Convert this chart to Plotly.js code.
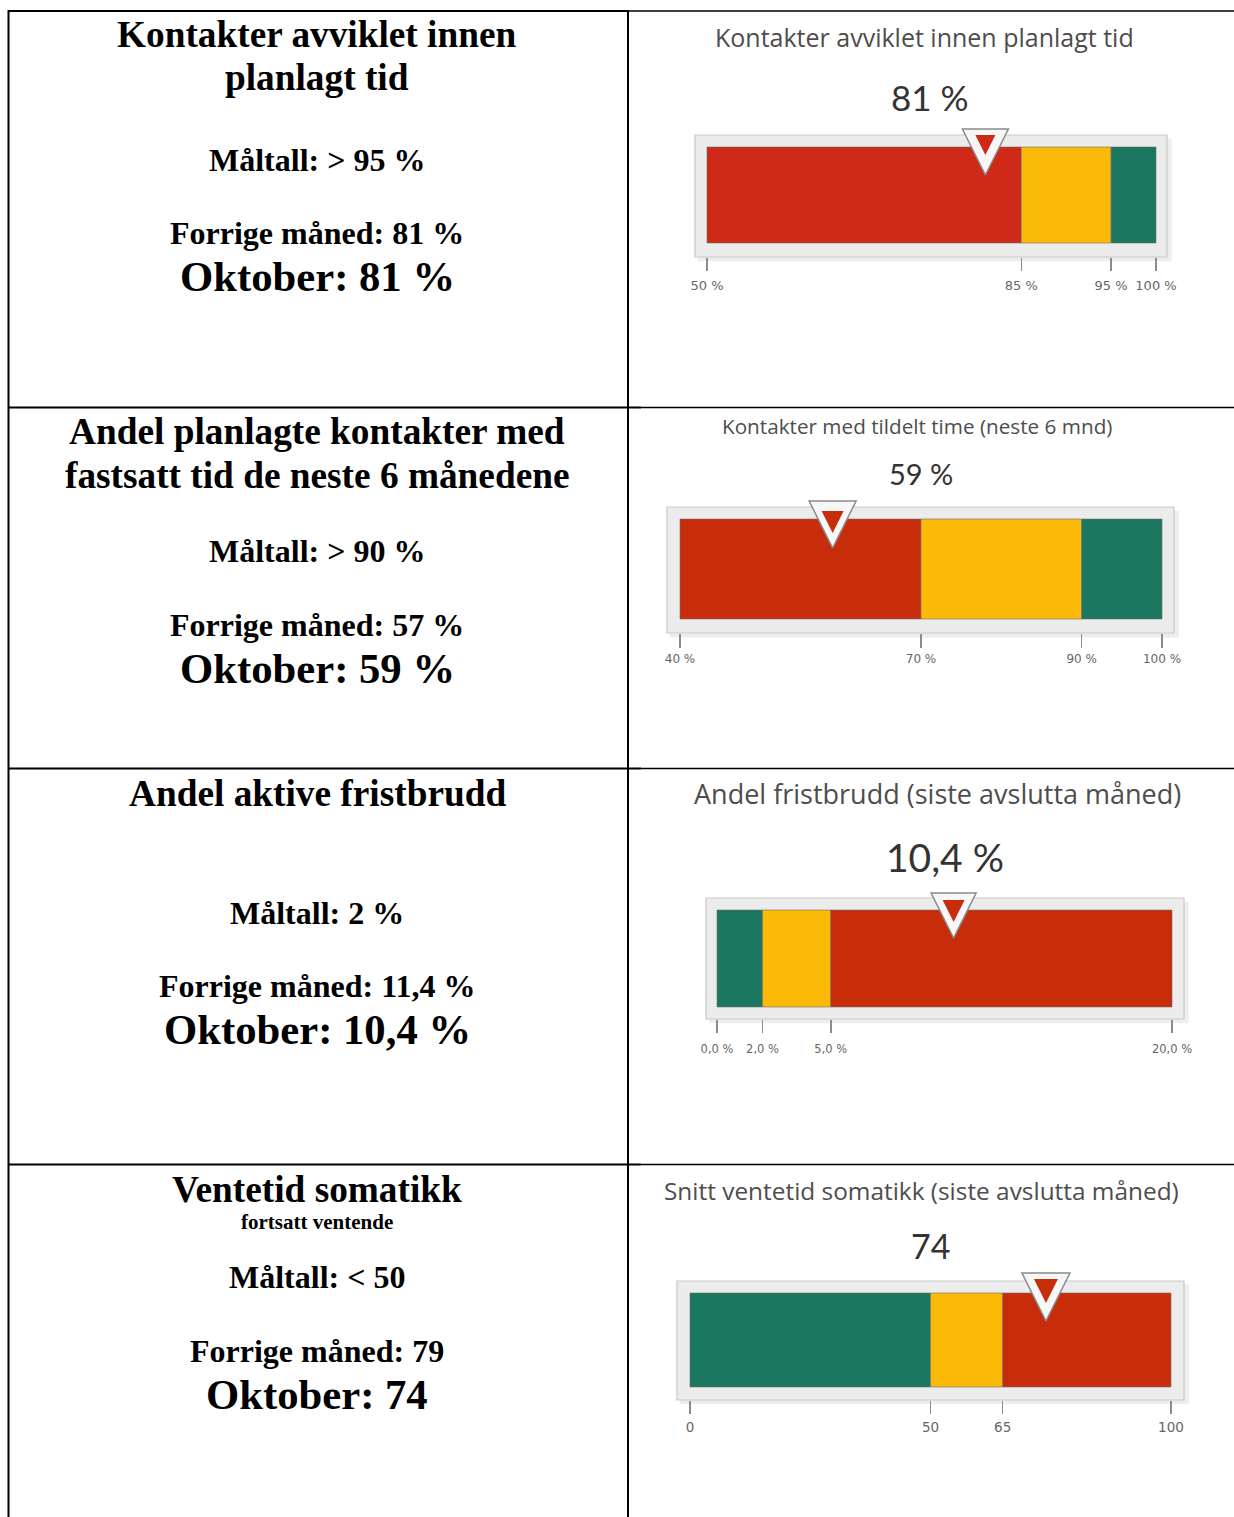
<!DOCTYPE html>
<html><head><meta charset="utf-8">
<script src="https://cdn.plot.ly/plotly-3.0.1.min.js"></script>
<style>html,body{margin:0;padding:0;background:#fff;}#chart{width:1234px;height:1517px;}</style>
</head><body><div id="chart"></div>
<script>
// ---------- DATA ----------
const rowHeadings = [
  ['Kontakter avviklet innen', 'planlagt tid'],
  ['Andel planlagte kontakter med', 'fastsatt tid de neste 6 månedene'],
  ['Andel aktive fristbrudd'],
  ['Ventetid somatikk']
];
const rowSubtitles = ['', '', '', 'fortsatt ventende'];
const targets = ['> 95 %', '> 90 %', '2 %', '< 50'];
const previousMonth = ['81 %', '57 %', '11,4 %', '79'];
const october = ['81 %', '59 %', '10,4 %', '74'];

const gaugeTitles = [
  'Kontakter avviklet innen planlagt tid',
  'Kontakter med tildelt time (neste 6 mnd)',
  'Andel fristbrudd (siste avslutta måned)',
  'Snitt ventetid somatikk (siste avslutta måned)'
];
const gaugeValues = [81, 59, 10.4, 74];
const gaugeValueText = ['81 %', '59 %', '10,4 %', '74'];
const gaugeBreaks = [[50, 85, 95, 100], [40, 70, 90, 100], [0, 2, 5, 20], [0, 50, 65, 100]];
const gaugeTickText = [
  ['50 %', '85 %', '95 %', '100 %'],
  ['40 %', '70 %', '90 %', '100 %'],
  ['0,0 %', '2,0 %', '5,0 %', '20,0 %'],
  ['0', '50', '65', '100']
];
const gaugeBandLevels = [
  ['red', 'yellow', 'green'],
  ['red', 'yellow', 'green'],
  ['green', 'yellow', 'red'],
  ['green', 'yellow', 'red']
];

// ---------- STYLE / GEOMETRY ----------
const W = 1234, H = 1517;
const PX = x => x / W, PY = y => 1 - y / H;
const geom = [
  {frame:[695,1167,135,257], bar:[707,1156,147,243], tip:175, triW:46, inTip:155, inW:20, title:[924,37,25], value:[930,97,35], tickLen:13, tickFont:13, standoff:3, red:'#cf2917'},
  {frame:[667,1174,507,633], bar:[680,1162,519,619], tip:548, triW:47, inTip:533, inW:22, title:[917,426,20.7], value:[921,473,29], tickLen:14, tickFont:12, standoff:1, red:'#c72d0b'},
  {frame:[706,1184,898,1019], bar:[717,1172,910,1007], tip:938, triW:45, inTip:922, inW:22, title:[938,793,27], value:[945,857,39], tickLen:13, tickFont:11.5, standoff:6, red:'#c72d0b'},
  {frame:[677,1184,1281,1400], bar:[690,1171,1293,1387], tip:1321, triW:48, inTip:1303, inW:24, title:[921,1190,24.4], value:[930,1245,34], tickLen:13, tickFont:13.5, standoff:2, red:'#c72d0b'}
];
const levelColor = {yellow:'#fcba08', green:'#1b7760'};
const leftY = [
  {head:[34,78], sub:null, target:160, prev:233, okt:276},
  {head:[431,475], sub:null, target:551, prev:625, okt:668},
  {head:[793], sub:null, target:913, prev:986, okt:1029},
  {head:[1189], sub:1222, target:1277, prev:1351, okt:1394}
];
const leftX = 317;
const serif = 'Liberation Serif, Times New Roman, serif';
const sans = 'Lato, Open Sans, sans-serif';
const titleFont = 'Open Sans, Noto Sans, sans-serif';
const tickFamily = 'DejaVu Sans, sans-serif';

const traces = [];
const layout = {
  width: W, height: H, margin:{l:0,r:0,t:0,b:0},
  paper_bgcolor:'#ffffff', plot_bgcolor:'rgba(0,0,0,0)',
  showlegend:false, hovermode:false, barmode:'overlay',
  shapes:[], annotations:[]
};

gaugeValues.forEach((val, i) => {
  const g = geom[i];
  const s = i === 0 ? '' : String(i + 1);
  const br = gaugeBreaks[i];
  const b0 = br[0], bN = br[br.length - 1];
  const scale = (g.bar[1] - g.bar[0]) / (bN - b0);
  const xr = [b0 - (g.bar[0] - g.frame[0]) / scale, bN + (g.frame[1] - g.bar[1]) / scale];
  const bh = g.bar[3] - g.bar[2];
  const yr = [-(g.frame[3] - g.bar[3]) / bh, 1 + (g.bar[2] - g.frame[2]) / bh];
  const yOf = p => (g.bar[3] - p) / bh;

  layout['xaxis' + s] = {
    domain:[PX(g.frame[0]), PX(g.frame[1])], range:xr, anchor:'y' + s,
    tickmode:'array', tickvals:br, ticktext:gaugeTickText[i],
    ticks:'outside', ticklen:g.tickLen, tickwidth:1.5, tickcolor:'#8c8c8c',
    ticklabelstandoff:g.standoff,
    tickfont:{family:tickFamily, size:g.tickFont, color:'#666'},
    showgrid:false, zeroline:false, showline:false, fixedrange:true
  };
  layout['yaxis' + s] = {
    domain:[PY(g.frame[3]), PY(g.frame[2])], range:yr, anchor:'x' + s,
    visible:false, fixedrange:true
  };

  // frame with soft shadow
  layout.shapes.push({type:'rect', xref:'x' + s + ' domain', yref:'y' + s + ' domain',
    x0:0.006, x1:1.01, y0:-0.035, y1:0.97, fillcolor:'#eeeeee', line:{width:0}, layer:'below'});
  layout.shapes.push({type:'rect', xref:'x' + s + ' domain', yref:'y' + s + ' domain',
    x0:0, x1:1, y0:0, y1:1, fillcolor:'#ececec', line:{color:'#c9c9c9', width:1.2}, layer:'below'});

  // bands
  for (let k = 0; k < br.length - 1; k++) {
    const lvl = gaugeBandLevels[i][k];
    traces.push({type:'bar', orientation:'h', xaxis:'x' + s, yaxis:'y' + s,
      y:[0.5], base:[br[k]], x:[br[k + 1] - br[k]], width:1,
      marker:{color: lvl === 'red' ? g.red : levelColor[lvl], line:{color:'rgba(110,110,110,0.6)', width:1}},
      hoverinfo:'skip'});
  }
  // marker
  traces.push({type:'scatter', mode:'markers', xaxis:'x' + s, yaxis:'y' + s, cliponaxis:false,
    x:[val], y:[yOf(g.tip)],
    marker:{symbol:'arrow-down', size:g.triW, color:'#f7f7f7', line:{color:'#8a8a8a', width:1.5}},
    hoverinfo:'skip'});
  traces.push({type:'scatter', mode:'markers', xaxis:'x' + s, yaxis:'y' + s, cliponaxis:false,
    x:[val], y:[yOf(g.inTip)],
    marker:{symbol:'arrow-down', size:g.inW, color:g.red, line:{width:0}},
    hoverinfo:'skip'});

  layout.annotations.push({xref:'paper', yref:'paper', x:PX(g.title[0]), y:PY(g.title[1]),
    text:gaugeTitles[i], showarrow:false, xanchor:'center', yanchor:'middle',
    font:{family:titleFont, size:g.title[2], color:'#4d4d4d'}});
  layout.annotations.push({xref:'paper', yref:'paper', x:PX(g.value[0]), y:PY(g.value[1]),
    text:gaugeValueText[i], showarrow:false, xanchor:'center', yanchor:'middle',
    font:{family:sans, size:g.value[2], color:'#333333'}});
});

// left column text
rowHeadings.forEach((lines, i) => {
  const L = leftY[i];
  const add = (txt, y, size) => layout.annotations.push({xref:'paper', yref:'paper',
    x:PX(leftX), y:PY(y), text:'<b>' + txt + '</b>', showarrow:false,
    xanchor:'center', yanchor:'middle', font:{family:serif, size:size, color:'#000'}});
  lines.forEach((t, j) => add(t, L.head[j], 37.3));
  if (rowSubtitles[i]) add(rowSubtitles[i], L.sub, 21);
  add('Måltall: ' + targets[i], L.target, 32);
  add('Forrige måned: ' + previousMonth[i], L.prev, 32);
  add('Oktober: ' + october[i], L.okt, 42.7);
});

// table lines
const line = (x0, y0, x1, y1, w) => layout.shapes.push({type:'line', xref:'paper', yref:'paper',
  x0:PX(x0), y0:PY(y0), x1:PX(x1), y1:PY(y1), line:{color:'#000', width:w}, layer:'above'});
line(8.5, 10, 8.5, 1517, 2);
line(628, 10, 628, 1517, 2);
line(8, 11, 628, 11, 2);
line(628, 11, 1234, 11, 1.5);
[407.5, 768.5, 1164.5].forEach(y => { line(8, y, 641, y, 2); line(641, y, 1234, y, 1.3); });

Plotly.newPlot('chart', traces, layout, {staticPlot:true, displayModeBar:false});
</script></body></html>
